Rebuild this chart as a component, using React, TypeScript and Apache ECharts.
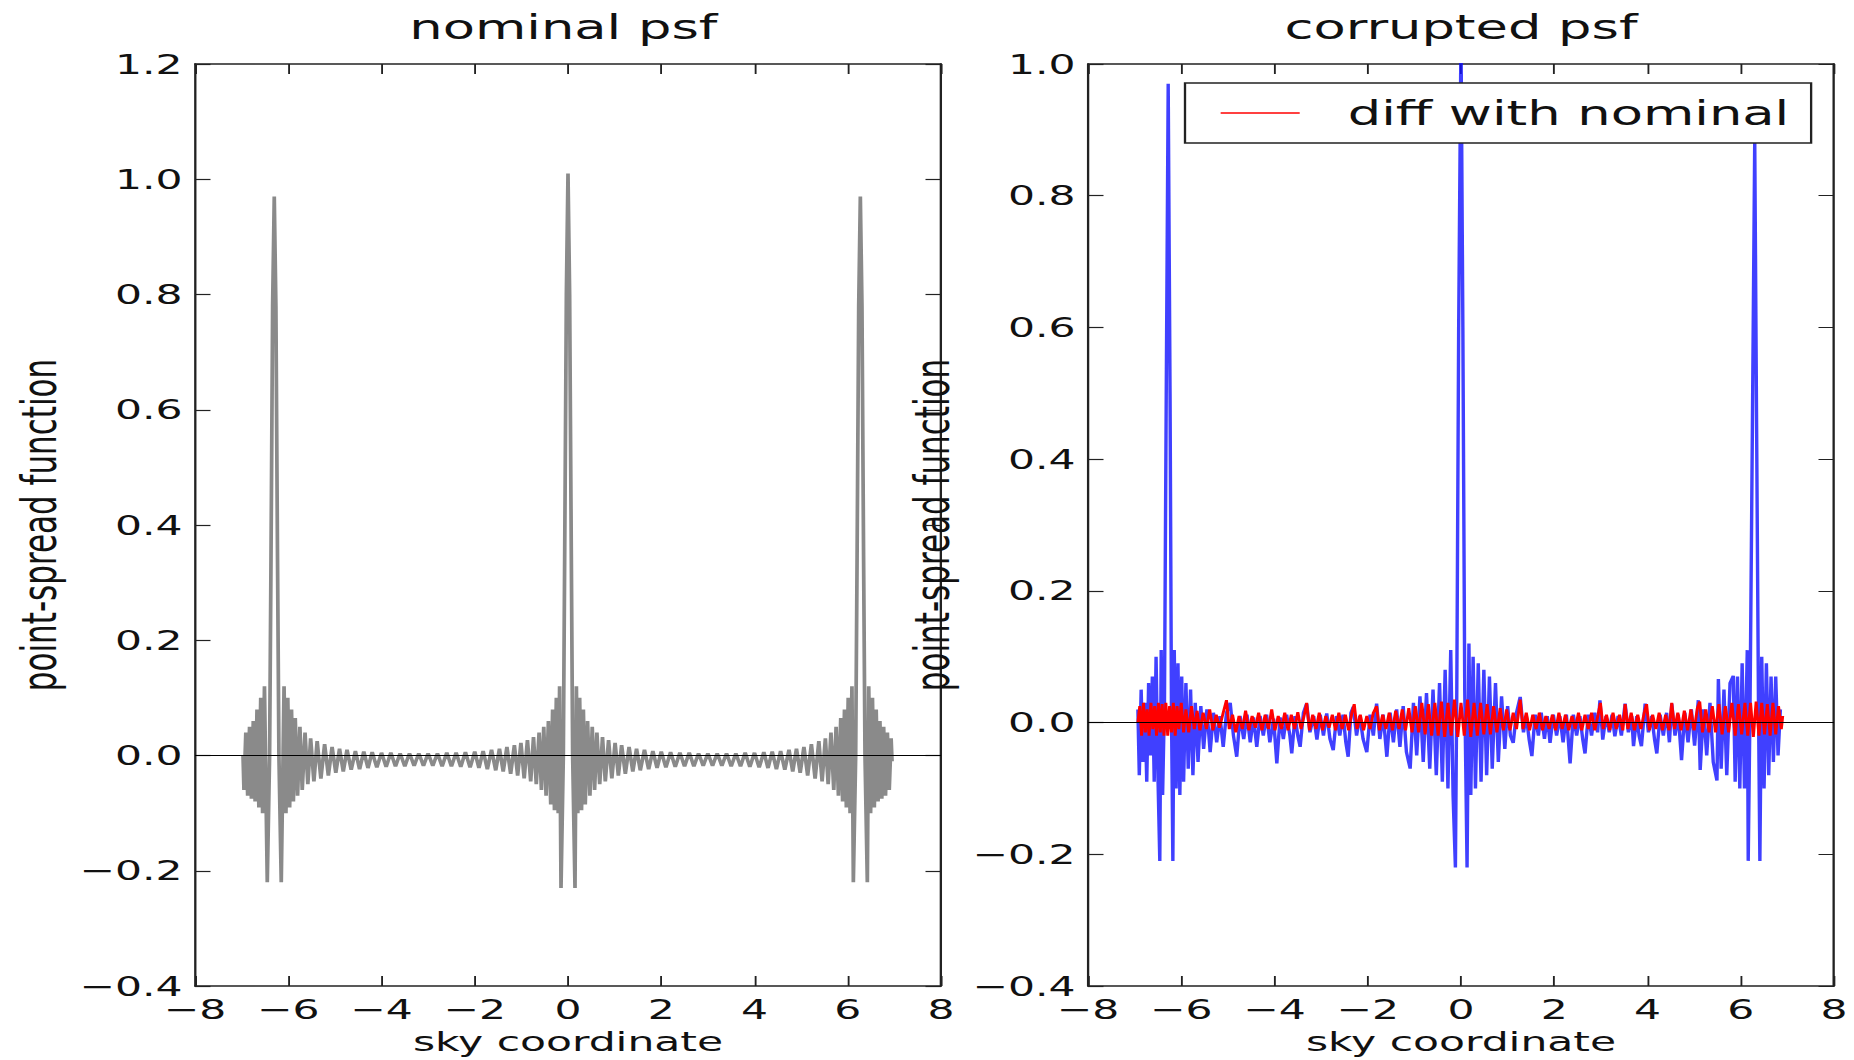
import React, { useEffect, useRef } from 'react';
import * as echarts from 'echarts';

// The reference is a horizontally stretched matplotlib figure; reproduce by drawing
// the chart narrower and stretching the container with a CSS scaleX.
const STRETCH = 1.55;
const PAGE_W = 1854;
const PAGE_H = 1060;
const W = PAGE_W / STRETCH;

const panelTitles = ['nominal psf', 'corrupted psf'];
const xLabel = 'sky coordinate';
const yLabel = 'point-spread function';
const legendLabel = 'diff with nominal';
const xRange = [-8, 8];
const xStep = 2;
const leftYRange = [-0.4, 1.2];
const rightYRange = [-0.4, 1.0];
const yStep = 0.2;

// nominal psf (grey), [sky coordinate, value]
const nominalPsf: [number, number][] = [
  [-6.97, 0.0], [-6.95, -0.06], [-6.91, 0.04], [-6.87, -0.07], [-6.83, 0.05], [-6.79, -0.075], [-6.75, 0.06], [-6.71, -0.08],
  [-6.67, 0.08], [-6.63, -0.09], [-6.59, 0.1], [-6.55, -0.1], [-6.51, 0.12], [-6.45, -0.22], [-6.4, 0.0], [-6.37, 0.34],
  [-6.335, 0.78], [-6.3, 0.97], [-6.265, 0.78], [-6.23, 0.34], [-6.2, 0.0], [-6.15, -0.22], [-6.09, 0.12], [-6.05, -0.1],
  [-6.01, 0.1], [-5.97, -0.09], [-5.93, 0.08], [-5.89, -0.08], [-5.85, 0.065], [-5.8, -0.07], [-5.75, 0.05], [-5.7, -0.06],
  [-5.64, 0.04], [-5.58, -0.05], [-5.52, 0.03], [-5.45, -0.045], [-5.38, 0.025], [-5.3, -0.04], [-5.22, 0.02], [-5.14, -0.035],
  [-5.06, 0.015], [-4.98, -0.03], [-4.9, 0.012], [-4.82, -0.028], [-4.74, 0.01], [-4.65, -0.025], [-4.56, 0.008], [-4.47, -0.024],
  [-4.38, 0.007], [-4.29, -0.022], [-4.2, 0.006], [-4.1, -0.021], [-4.0, 0.005], [-3.9, -0.02], [-3.8, 0.005], [-3.7, -0.019],
  [-3.6, 0.004], [-3.5, -0.019], [-3.4, 0.004], [-3.3, -0.018], [-3.2, 0.004], [-3.1, -0.018], [-3.0, 0.004], [-2.9, -0.018],
  [-2.8, 0.004], [-2.7, -0.019], [-2.6, 0.005], [-2.5, -0.019], [-2.4, 0.005], [-2.3, -0.02], [-2.2, 0.006], [-2.1, -0.021],
  [-2.0, 0.007], [-1.91, -0.022], [-1.82, 0.008], [-1.73, -0.024], [-1.64, 0.01], [-1.55, -0.026], [-1.47, 0.012], [-1.39, -0.028],
  [-1.31, 0.015], [-1.23, -0.032], [-1.15, 0.018], [-1.08, -0.035], [-1.01, 0.022], [-0.94, -0.04], [-0.87, 0.027], [-0.8, -0.045],
  [-0.74, 0.032], [-0.68, -0.05], [-0.62, 0.04], [-0.57, -0.06], [-0.52, 0.05], [-0.47, -0.07], [-0.42, 0.06], [-0.37, -0.085],
  [-0.33, 0.08], [-0.29, -0.095], [-0.25, 0.1], [-0.21, -0.1], [-0.18, 0.12], [-0.15, -0.23], [-0.1, 0.0], [-0.07, 0.36],
  [-0.035, 0.8], [0.0, 1.01], [0.035, 0.8], [0.07, 0.36], [0.1, 0.0], [0.15, -0.23], [0.18, 0.12], [0.21, -0.1],
  [0.25, 0.1], [0.29, -0.095], [0.33, 0.08], [0.37, -0.085], [0.42, 0.06], [0.47, -0.07], [0.52, 0.05], [0.57, -0.06],
  [0.62, 0.04], [0.68, -0.05], [0.74, 0.032], [0.8, -0.045], [0.87, 0.027], [0.94, -0.04], [1.01, 0.022], [1.08, -0.035],
  [1.15, 0.018], [1.23, -0.032], [1.31, 0.015], [1.39, -0.028], [1.47, 0.012], [1.55, -0.026], [1.64, 0.01], [1.73, -0.024],
  [1.82, 0.008], [1.91, -0.022], [2.0, 0.007], [2.1, -0.021], [2.2, 0.006], [2.3, -0.02], [2.4, 0.005], [2.5, -0.019],
  [2.6, 0.005], [2.7, -0.019], [2.8, 0.004], [2.9, -0.018], [3.0, 0.004], [3.1, -0.018], [3.2, 0.004], [3.3, -0.018],
  [3.4, 0.004], [3.5, -0.019], [3.6, 0.004], [3.7, -0.019], [3.8, 0.005], [3.9, -0.02], [4.0, 0.005], [4.1, -0.021],
  [4.2, 0.006], [4.29, -0.022], [4.38, 0.007], [4.47, -0.024], [4.56, 0.008], [4.65, -0.025], [4.74, 0.01], [4.82, -0.028],
  [4.9, 0.012], [4.98, -0.03], [5.06, 0.015], [5.14, -0.035], [5.22, 0.02], [5.3, -0.04], [5.38, 0.025], [5.45, -0.045],
  [5.52, 0.03], [5.58, -0.05], [5.64, 0.04], [5.7, -0.06], [5.75, 0.05], [5.8, -0.07], [5.85, 0.065], [5.89, -0.08],
  [5.93, 0.08], [5.97, -0.09], [6.01, 0.1], [6.05, -0.1], [6.09, 0.12], [6.12, -0.22], [6.17, 0.0], [6.2, 0.34],
  [6.235, 0.78], [6.27, 0.97], [6.305, 0.78], [6.34, 0.34], [6.37, 0.0], [6.42, -0.22], [6.45, 0.12], [6.49, -0.1],
  [6.53, 0.1], [6.57, -0.09], [6.61, 0.08], [6.65, -0.08], [6.69, 0.06], [6.73, -0.075], [6.77, 0.05], [6.81, -0.07],
  [6.85, 0.04], [6.89, -0.06], [6.93, 0.03], [6.95, -0.01],
];

// corrupted psf (blue)
const corruptedPsf: [number, number][] = [
  [-6.93, 0.02], [-6.9, -0.08], [-6.86, 0.05], [-6.82, -0.06], [-6.78, 0.03], [-6.74, -0.09], [-6.7, 0.06], [-6.66, -0.05],
  [-6.62, 0.07], [-6.58, -0.09], [-6.54, 0.1], [-6.5, -0.08], [-6.46, -0.21], [-6.43, 0.11], [-6.4, -0.11], [-6.36, 0.03],
  [-6.32, 0.52], [-6.28, 0.97], [-6.24, 0.5], [-6.21, 0.02], [-6.18, -0.21], [-6.15, 0.11], [-6.11, -0.1], [-6.07, 0.09],
  [-6.03, -0.11], [-5.99, 0.07], [-5.95, -0.09], [-5.9, 0.06], [-5.85, -0.07], [-5.8, 0.05], [-5.75, -0.08], [-5.7, 0.03],
  [-5.64, -0.06], [-5.58, 0.025], [-5.52, -0.04], [-5.45, 0.02], [-5.38, -0.045], [-5.31, 0.015], [-5.24, -0.03], [-5.17, 0.01],
  [-5.1, -0.037], [-5.03, 0.015], [-4.95, 0.03], [-4.88, -0.02], [-4.81, -0.052], [-4.74, 0.01], [-4.66, -0.025], [-4.59, 0.012],
  [-4.52, -0.03], [-4.45, 0.008], [-4.38, -0.037], [-4.31, 0.01], [-4.24, -0.02], [-4.17, 0.012], [-4.1, -0.03], [-4.02, 0.006],
  [-3.95, -0.062], [-3.88, 0.008], [-3.81, -0.025], [-3.74, 0.012], [-3.67, -0.02], [-3.63, -0.047], [-3.56, 0.01], [-3.5, -0.02],
  [-3.45, -0.037], [-3.38, 0.015], [-3.31, 0.029], [-3.24, -0.015], [-3.16, 0.01], [-3.09, -0.026], [-3.02, 0.012], [-2.95, -0.02],
  [-2.88, 0.014], [-2.81, -0.025], [-2.74, -0.042], [-2.67, 0.01], [-2.6, -0.02], [-2.53, 0.012], [-2.47, -0.03], [-2.42, -0.052],
  [-2.36, 0.015], [-2.31, 0.024], [-2.24, -0.02], [-2.17, 0.01], [-2.1, -0.025], [-2.02, -0.045], [-1.95, 0.012], [-1.88, -0.02],
  [-1.81, 0.029], [-1.74, -0.025], [-1.67, 0.012], [-1.59, -0.052], [-1.52, 0.015], [-1.45, -0.03], [-1.38, 0.02], [-1.31, -0.037],
  [-1.24, 0.025], [-1.17, -0.045], [-1.09, -0.07], [-1.02, 0.03], [-0.95, -0.05], [-0.88, 0.04], [-0.81, -0.06], [-0.74, 0.045],
  [-0.67, -0.07], [-0.6, 0.05], [-0.53, -0.08], [-0.46, 0.06], [-0.4, -0.09], [-0.34, 0.08], [-0.28, -0.1], [-0.22, 0.11],
  [-0.17, -0.11], [-0.12, -0.22], [-0.09, 0.05], [-0.05, 0.6], [0.0, 1.05], [0.04, 0.6], [0.08, 0.05], [0.13, -0.22],
  [0.17, 0.12], [0.21, -0.11], [0.26, 0.1], [0.31, -0.1], [0.37, 0.09], [0.43, -0.09], [0.49, 0.08], [0.55, -0.08],
  [0.61, 0.07], [0.67, -0.07], [0.74, 0.06], [0.8, -0.06], [0.87, 0.04], [0.94, -0.04], [1.0, 0.025], [1.06, -0.02],
  [1.12, -0.031], [1.19, 0.015], [1.27, 0.039], [1.34, -0.015], [1.4, 0.01], [1.46, -0.025], [1.52, -0.051], [1.59, 0.012],
  [1.66, -0.02], [1.72, 0.015], [1.79, -0.025], [1.85, 0.01], [1.91, -0.031], [1.98, 0.012], [2.05, -0.02], [2.12, 0.01],
  [2.19, -0.03], [2.26, 0.012], [2.34, -0.062], [2.41, 0.012], [2.48, -0.02], [2.55, 0.01], [2.61, -0.025], [2.66, -0.047],
  [2.73, 0.012], [2.8, -0.02], [2.87, 0.015], [2.93, -0.015], [2.98, 0.034], [3.04, -0.026], [3.11, 0.01], [3.18, -0.015],
  [3.24, 0.012], [3.3, -0.021], [3.37, 0.01], [3.44, -0.02], [3.52, 0.029], [3.59, -0.015], [3.66, 0.01], [3.7, -0.036],
  [3.77, 0.01], [3.82, -0.02], [3.87, -0.036], [3.95, 0.029], [4.02, -0.015], [4.09, 0.01], [4.15, -0.025], [4.2, -0.047],
  [4.27, 0.012], [4.34, -0.02], [4.41, 0.015], [4.47, -0.03], [4.52, 0.029], [4.59, -0.02], [4.66, 0.012], [4.73, -0.057],
  [4.8, 0.015], [4.87, -0.03], [4.94, 0.02], [5.01, -0.035], [5.09, 0.034], [5.13, -0.072], [5.2, 0.02], [5.27, -0.05],
  [5.34, 0.03], [5.41, -0.06], [5.49, -0.088], [5.52, 0.066], [5.58, -0.07], [5.64, 0.05], [5.7, -0.08], [5.77, 0.06],
  [5.84, 0.071], [5.88, -0.09], [5.93, 0.07], [5.98, -0.1], [6.03, 0.09], [6.08, -0.1], [6.14, 0.11], [6.16, -0.21],
  [6.2, 0.03], [6.25, 0.45], [6.3, 0.886], [6.34, 0.45], [6.38, 0.03], [6.41, -0.21], [6.45, 0.1], [6.5, -0.1],
  [6.55, 0.09], [6.6, -0.08], [6.65, 0.07], [6.7, -0.06], [6.75, 0.07], [6.8, -0.05], [6.85, 0.02],
];

// difference corrupted - nominal (red)
const diffWithNominal: [number, number][] = [
  [-6.93, 0.0], [-6.89, 0.025], [-6.85, -0.02], [-6.81, 0.03], [-6.77, -0.015], [-6.73, 0.02], [-6.69, -0.02], [-6.65, 0.03],
  [-6.61, -0.01], [-6.57, 0.025], [-6.53, -0.02], [-6.49, 0.03], [-6.45, -0.015], [-6.41, 0.028], [-6.37, -0.02], [-6.33, 0.03],
  [-6.29, -0.02], [-6.25, 0.025], [-6.21, -0.015], [-6.17, 0.03], [-6.13, -0.02], [-6.09, 0.025], [-6.05, -0.01], [-6.0, 0.03],
  [-5.95, -0.015], [-5.9, 0.02], [-5.84, -0.015], [-5.78, 0.025], [-5.72, -0.01], [-5.66, 0.018], [-5.6, -0.012], [-5.53, 0.015],
  [-5.46, -0.01], [-5.39, 0.02], [-5.32, -0.012], [-5.25, 0.012], [-5.18, -0.008], [-5.1, 0.015], [-5.03, 0.034], [-4.97, -0.01],
  [-4.9, 0.012], [-4.83, -0.015], [-4.76, 0.01], [-4.69, -0.01], [-4.62, 0.018], [-4.55, -0.012], [-4.48, 0.01], [-4.41, -0.008],
  [-4.34, 0.015], [-4.27, -0.012], [-4.2, 0.012], [-4.13, -0.01], [-4.06, 0.02], [-3.99, -0.012], [-3.92, 0.01], [-3.85, -0.01],
  [-3.78, 0.015], [-3.71, -0.012], [-3.64, 0.012], [-3.57, -0.01], [-3.5, 0.016], [-3.43, -0.01], [-3.36, 0.012], [-3.31, 0.03],
  [-3.25, -0.012], [-3.18, 0.012], [-3.11, -0.01], [-3.04, 0.015], [-2.97, -0.012], [-2.9, 0.01], [-2.83, -0.008], [-2.76, 0.012],
  [-2.69, -0.012], [-2.62, 0.015], [-2.55, -0.01], [-2.48, 0.012], [-2.41, -0.012], [-2.34, 0.015], [-2.29, 0.028], [-2.23, -0.01],
  [-2.16, 0.012], [-2.09, -0.012], [-2.02, 0.01], [-1.95, -0.01], [-1.88, 0.015], [-1.81, 0.025], [-1.75, -0.012], [-1.68, 0.012],
  [-1.61, -0.01], [-1.54, 0.015], [-1.47, -0.012], [-1.4, 0.018], [-1.33, -0.01], [-1.26, 0.02], [-1.19, -0.012], [-1.12, 0.022],
  [-1.05, -0.015], [-0.98, 0.025], [-0.91, -0.015], [-0.84, 0.03], [-0.77, -0.018], [-0.7, 0.028], [-0.63, -0.02], [-0.56, 0.03],
  [-0.49, -0.02], [-0.42, 0.032], [-0.35, -0.022], [-0.28, 0.03], [-0.21, -0.02], [-0.14, 0.035], [-0.07, -0.022], [0.0, 0.03],
  [0.07, -0.02], [0.14, 0.035], [0.21, -0.022], [0.28, 0.03], [0.35, -0.02], [0.42, 0.03], [0.49, -0.018], [0.56, 0.028],
  [0.63, -0.018], [0.7, 0.025], [0.77, -0.015], [0.84, 0.022], [0.91, -0.012], [0.98, 0.02], [1.05, -0.012], [1.12, 0.015],
  [1.19, -0.01], [1.27, 0.035], [1.33, -0.01], [1.4, 0.015], [1.47, -0.012], [1.54, 0.012], [1.61, -0.01], [1.68, 0.015],
  [1.75, -0.012], [1.82, 0.01], [1.89, -0.01], [1.96, 0.012], [2.03, -0.012], [2.1, 0.015], [2.17, -0.01], [2.24, 0.012],
  [2.31, -0.012], [2.38, 0.01], [2.45, -0.01], [2.52, 0.015], [2.59, -0.012], [2.66, 0.012], [2.73, -0.01], [2.8, 0.015],
  [2.87, -0.012], [2.94, 0.012], [2.99, 0.03], [3.05, -0.01], [3.12, 0.012], [3.19, -0.012], [3.26, 0.015], [3.33, -0.01],
  [3.4, 0.012], [3.47, -0.012], [3.52, 0.028], [3.58, -0.01], [3.65, 0.015], [3.72, -0.012], [3.79, 0.012], [3.86, -0.01],
  [3.93, 0.015], [3.98, 0.028], [4.04, -0.012], [4.11, 0.012], [4.18, -0.01], [4.25, 0.015], [4.32, -0.012], [4.39, 0.012],
  [4.46, -0.012], [4.52, 0.03], [4.58, -0.01], [4.65, 0.015], [4.72, -0.012], [4.79, 0.018], [4.86, -0.012], [4.93, 0.02],
  [5.0, -0.012], [5.07, 0.022], [5.12, 0.032], [5.18, -0.015], [5.25, 0.02], [5.32, -0.015], [5.39, 0.025], [5.46, -0.015],
  [5.53, 0.028], [5.6, -0.018], [5.67, 0.025], [5.74, -0.015], [5.81, 0.03], [5.88, -0.02], [5.95, 0.028], [6.02, -0.018],
  [6.09, 0.03], [6.15, -0.02], [6.21, 0.03], [6.27, -0.022], [6.33, 0.032], [6.39, -0.02], [6.45, 0.03], [6.51, -0.018],
  [6.57, 0.028], [6.63, -0.02], [6.69, 0.03], [6.75, -0.018], [6.81, 0.025], [6.87, -0.01], [6.9, 0.01],
];

const FONT = 'DejaVu Sans';
const INK = '#111';
const FRAME = '#222';

const fmtX = (v: number) => String(Math.round(v)).replace('-', '\u2212');
const fmtY = (v: number) => (Math.abs(v) < 1e-9 ? 0 : v).toFixed(1).replace('-', '\u2212');

function xAxesFor(grid: number) {
  const common = {
    type: 'value', gridIndex: grid, min: xRange[0], max: xRange[1], interval: xStep,
    axisLine: { show: true, onZero: false, lineStyle: { color: FRAME, width: 1.5 } },
    axisTick: { show: true, inside: true, length: 10, lineStyle: { color: FRAME, width: 1.2 } },
    splitLine: { show: false },
  };
  return [
    {
      ...common, position: 'bottom',
      axisLabel: { show: true, formatter: fmtX, fontSize: 27.4, color: INK, fontFamily: FONT, margin: 10 },
      name: xLabel, nameLocation: 'middle', nameGap: 40,
      nameTextStyle: { fontSize: 27.4, color: INK, fontFamily: FONT },
    },
    { ...common, position: 'top', axisLabel: { show: false } },
  ];
}

function yAxesFor(grid: number, range: number[]) {
  const common = {
    type: 'value', gridIndex: grid, min: range[0], max: range[1], interval: yStep,
    axisLine: { show: true, onZero: false, lineStyle: { color: FRAME, width: 1.5 } },
    axisTick: { show: true, inside: true, length: 10, lineStyle: { color: FRAME, width: 1.2 } },
    splitLine: { show: false },
  };
  return [
    {
      ...common, position: 'left',
      axisLabel: { show: true, formatter: fmtY, fontSize: 27.4, color: INK, fontFamily: FONT, margin: 8 },
      name: yLabel, nameLocation: 'middle', nameGap: 85, nameRotate: 90,
      nameTextStyle: { fontSize: 31, color: INK, fontFamily: FONT },
    },
    { ...common, position: 'right', axisLabel: { show: false } },
  ];
}

const zeroLine = {
  silent: true, symbol: ['none', 'none'], animation: false,
  label: { show: false },
  lineStyle: { color: '#000', width: 1.2, type: 'solid' },
  data: [{ yAxis: 0 }],
};

export default function App() {
  const ref = useRef<HTMLDivElement>(null);
  useEffect(() => {
    if (!ref.current) return;
    const chart = echarts.init(ref.current, undefined, { renderer: 'svg' });
    const leftX0 = 195 / STRETCH;
    const rightX0 = 1088 / STRETCH;
    const panelW = 746 / STRETCH;
    chart.setOption({
      animation: false,
      backgroundColor: '#fff',
      textStyle: { fontFamily: FONT },
      title: [
        {
          text: panelTitles[0], left: leftX0 + panelW / 2 - 3, top: 10, textAlign: 'center', padding: 0,
          textStyle: { fontSize: 34, fontWeight: 'normal', color: INK, fontFamily: FONT },
        },
        {
          text: panelTitles[1], left: rightX0 + panelW / 2, top: 10, textAlign: 'center', padding: 0,
          textStyle: { fontSize: 34, fontWeight: 'normal', color: INK, fontFamily: FONT },
        },
      ],
      legend: {
        data: [legendLabel],
        left: 1185 / STRETCH, top: 83,
        padding: [13, 14, 13, 23],
        backgroundColor: '#fff', borderColor: FRAME, borderWidth: 1.5, borderRadius: 0,
        icon: 'rect', itemWidth: 51, itemHeight: 1.5,
        textStyle: { fontSize: 34, color: INK, fontFamily: FONT, padding: [0, 0, 0, 26] },
        selectedMode: false,
      },
      grid: [
        { left: leftX0, top: 64, width: panelW, height: 922 },
        { left: rightX0, top: 64, width: panelW, height: 922 },
      ],
      xAxis: [...xAxesFor(0), ...xAxesFor(1)],
      yAxis: [...yAxesFor(0, leftYRange), ...yAxesFor(1, rightYRange)],
      series: [
        {
          type: 'line', name: 'nominal', xAxisIndex: 0, yAxisIndex: 0, data: nominalPsf,
          symbol: 'none', showSymbol: false, silent: true, clip: true,
          lineStyle: { color: '#8a8a8a', width: 2.4 }, itemStyle: { color: '#8a8a8a' },
          markLine: zeroLine, z: 2,
        },
        {
          type: 'line', name: 'corrupted', xAxisIndex: 2, yAxisIndex: 2, data: corruptedPsf,
          symbol: 'none', showSymbol: false, silent: true, clip: true,
          lineStyle: { color: '#1010ff', width: 2.2, opacity: 0.8 }, itemStyle: { color: '#1010ff' },
          markLine: zeroLine, z: 2,
        },
        {
          type: 'line', name: legendLabel, xAxisIndex: 2, yAxisIndex: 2, data: diffWithNominal,
          symbol: 'none', showSymbol: false, silent: true, clip: true,
          lineStyle: { color: '#ff0000', width: 1.9 }, itemStyle: { color: '#ff0000' }, z: 3,
        },
      ],
    });
    return () => chart.dispose();
  }, []);
  return (
    <div
      ref={ref}
      style={{
        position: 'absolute', left: 0, top: 0, width: `${W}px`, height: `${PAGE_H}px`,
        transform: `scaleX(${STRETCH})`, transformOrigin: '0 0', background: '#fff',
      }}
    />
  );
}
